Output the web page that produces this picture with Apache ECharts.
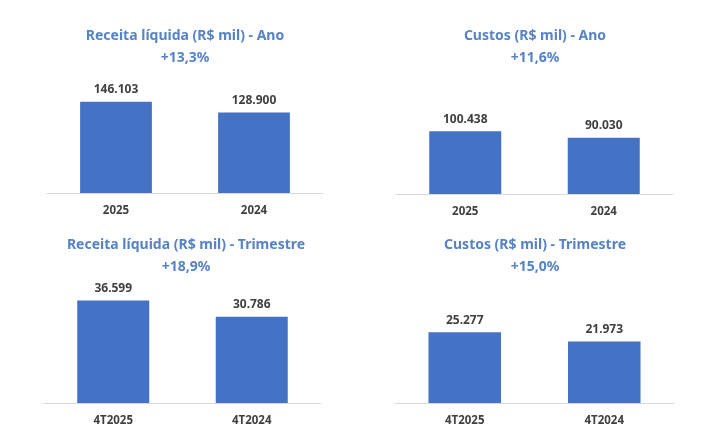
<!DOCTYPE html>
<html>
<head>
<meta charset="utf-8">
<script src="https://cdn.jsdelivr.net/npm/echarts@6/dist/echarts.min.js"></script>
<style>
html,body{margin:0;padding:0;background:#fff;}
#c{width:726px;height:427px;}
</style>
</head>
<body>
<div id="c"></div>
<script>
const categoriesAno = ['2025', '2024'];
const categoriesTri = ['4T2025', '4T2024'];
const receitaAno = [146103, 128900];
const custosAno = [100438, 90030];
const receitaTri = [36599, 30786];
const custosTri = [25277, 21973];
const panelTitles = ['Receita líquida (R$ mil) - Ano', 'Custos (R$ mil) - Ano', 'Receita líquida (R$ mil) - Trimestre', 'Custos (R$ mil) - Trimestre'];
const variations = ['+13,3%', '+11,6%', '+18,9%', '+15,0%'];

const FONT = '"Noto Sans", "Open Sans", sans-serif';
const BAR = '#4472c4';
const TITLE = '#5683c6';
const TXT = '#404040';

function fmt(v) {
  return String(v).replace(/\B(?=(\d{3})+(?!\d))/g, '.');
}

const panels = [
  { cats: categoriesAno, data: receitaAno, grid: { left: 47, width: 276, top: 93, height: 100 }, max: 160000, cx: 185, ty: 29 },
  { cats: categoriesAno, data: custosAno, grid: { left: 396, width: 277, top: 94, height: 100 }, max: 160000, cx: 535, ty: 29 },
  { cats: categoriesTri, data: receitaTri, grid: { left: 44, width: 277, top: 291, height: 112 }, max: 40000, cx: 186, ty: 238 },
  { cats: categoriesTri, data: custosTri, grid: { left: 395, width: 279, top: 291, height: 112 }, max: 40000, cx: 535, ty: 238 }
];

const option = {
  backgroundColor: '#fff',
  animation: false,
  title: panels.map((p, i) => ({
    text: panelTitles[i],
    subtext: variations[i],
    left: p.cx,
    top: p.ty,
    textAlign: 'center',
    itemGap: 8,
    padding: 0,
    textStyle: { fontFamily: FONT, fontSize: 14, fontWeight: 'bold', color: TITLE },
    subtextStyle: { fontFamily: FONT, fontSize: 14, fontWeight: 'bold', color: TITLE }
  })),
  grid: panels.map(p => Object.assign({ containLabel: false }, p.grid)),
  xAxis: panels.map((p, i) => ({
    type: 'category',
    gridIndex: i,
    data: p.cats,
    axisLine: { show: true, lineStyle: { color: '#d9d9d9', width: 1 } },
    axisTick: { show: false },
    axisLabel: { margin: 12, fontFamily: FONT, fontSize: 11.5, fontWeight: 'bold', color: TXT }
  })),
  yAxis: panels.map((p, i) => ({
    type: 'value',
    gridIndex: i,
    min: 0,
    max: p.max,
    show: false,
    splitLine: { show: false }
  })),
  series: panels.map((p, i) => ({
    type: 'bar',
    xAxisIndex: i,
    yAxisIndex: i,
    data: p.data,
    barWidth: '52%',
    itemStyle: { color: BAR },
    label: {
      show: true,
      position: 'top',
      distance: 6,
      formatter: (d) => fmt(d.value),
      fontFamily: FONT,
      fontSize: 12,
      fontWeight: 'bold',
      color: TXT
    }
  }))
};

const chart = echarts.init(document.getElementById('c'), null, { renderer: 'canvas' });
chart.setOption(option);
</script>
</body>
</html>
